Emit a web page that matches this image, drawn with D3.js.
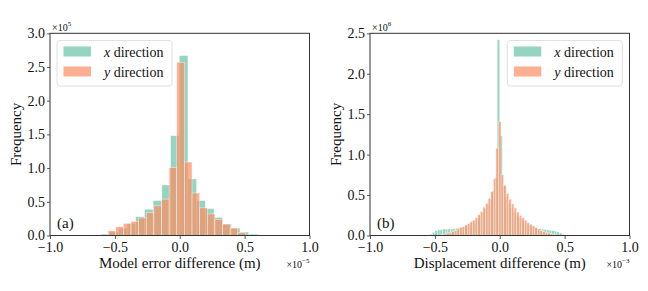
<!DOCTYPE html>
<html>
<head>
<meta charset="utf-8">
<script src="https://cdn.jsdelivr.net/npm/d3@7"></script>
<style>
  body { margin: 0; background: #fff; }
  svg, svg text { font-family: "Liberation Serif", "Times New Roman", Times, "DejaVu Serif", serif !important; }
</style>
</head>
<body>
<div id="chart"></div>
<script>
// (a) model error difference, x in 1e-5 m, counts in 1e5
const aRangeX = [-0.607, 0.599]
const aCountX = [0.02, 0.05, 0.11, 0.18, 0.28, 0.39, 0.52, 0.75, 1.48, 2.67, 0.84, 0.52, 0.40, 0.27, 0.17, 0.11, 0.05, 0.02]
const aRangeY = [-0.552, 0.506]
const aCountY = [0.07, 0.13, 0.18, 0.21, 0.26, 0.34, 0.44, 0.54, 1.01, 2.57, 1.09, 0.63, 0.41, 0.32, 0.24, 0.17, 0.11, 0.04]

// (b) displacement difference, x in 1e-3 m, counts in 1e6
const bRangeX = [-0.54, 0.50]
const bCountX = [0.015, 0.04, 0.06, 0.07, 0.075, 0.08, 0.08, 0.08, 0.08, 0.085, 0.09, 0.095, 0.10, 0.11, 0.12, 0.14,
  0.16, 0.18, 0.21, 0.24, 0.28, 0.33, 0.38, 0.45, 0.55, 0.72, 2.42, 1.23, 0.62, 0.48, 0.40, 0.34, 0.29, 0.25, 0.22,
  0.19, 0.16, 0.14, 0.12, 0.11, 0.10, 0.09, 0.085, 0.08, 0.075, 0.07, 0.065, 0.06, 0.055, 0.045, 0.03, 0.012]
const bRangeY = [-0.45, 0.43]
const bCountY = [0.01, 0.02, 0.03, 0.04, 0.05, 0.06, 0.08, 0.10, 0.11, 0.13, 0.15, 0.17, 0.19, 0.22, 0.26, 0.30,
  0.35, 0.40, 0.46, 0.54, 0.70, 1.08, 1.41, 0.75, 0.62, 0.52, 0.45, 0.39, 0.34, 0.29, 0.25, 0.22, 0.19, 0.16,
  0.14, 0.12, 0.10, 0.08, 0.06, 0.05, 0.04, 0.03, 0.02, 0.01]

const xTicks = [-1, -0.5, 0, 0.5, 1]
const legendNames = ['x', 'y']
const colors = ['#66c2a5', '#fc8d62']

const W = 648, H = 291
const svg = d3.select('#chart').append('svg').attr('width', W).attr('height', H)
const fmt = d3.format('.1f')

function panel(o) {
  const x = d3.scaleLinear().domain([-1, 1]).range([o.left, o.right])
  const y = d3.scaleLinear().domain([0, o.yMax]).range([o.bottom, o.top])
  const g = svg.append('g')

  o.series.forEach((s, k) => {
    const w = (s.range[1] - s.range[0]) / s.counts.length
    g.append('g').selectAll('rect').data(s.counts).join('rect')
      .attr('x', (d, i) => x(s.range[0] + i * w))
      .attr('width', (d, i) => x(s.range[0] + (i + 1) * w) - x(s.range[0] + i * w))
      .attr('y', d => y(d))
      .attr('height', d => y(0) - y(d))
      .attr('fill', colors[k]).attr('fill-opacity', 0.7)
      .attr('stroke', '#fff').attr('stroke-opacity', 0.7).attr('stroke-width', 0.6)
  })

  const xa = g.append('g').attr('transform', `translate(0,${o.bottom})`)
    .call(d3.axisBottom(x).tickValues(xTicks).tickFormat(fmt).tickSize(3.5).tickPadding(3))
  const ya = g.append('g').attr('transform', `translate(${o.left},0)`)
    .call(d3.axisLeft(y).tickValues(d3.range(0, o.yMax + 0.01, 0.5)).tickFormat(fmt).tickSize(3).tickPadding(2))
  ;[xa, ya].forEach(a => {
    a.attr('font-family', null)
    a.select('.domain').remove()
    a.selectAll('line').attr('stroke', '#333').attr('stroke-width', 0.8)
    a.selectAll('text').attr('font-size', 14).attr('fill', '#111')
  })

  g.append('rect').attr('x', o.left).attr('y', o.top)
    .attr('width', o.right - o.left).attr('height', o.bottom - o.top)
    .attr('fill', 'none').attr('stroke', '#333').attr('stroke-width', 1)

  // axis labels
  g.append('text').attr('x', (o.left + o.right) / 2).attr('y', 268)
    .attr('text-anchor', 'middle').attr('font-size', 15).attr('fill', '#111').text(o.xLabel)
  g.append('text').attr('transform', `translate(${o.left - 29},${(o.top + o.bottom) / 2}) rotate(-90)`)
    .attr('text-anchor', 'middle').attr('font-size', 15).attr('fill', '#111').text('Frequency')

  // offset texts
  const yo = g.append('text').attr('x', o.left + 2).attr('y', 31).attr('font-size', 10).attr('fill', '#111')
  yo.append('tspan').text('×10')
  yo.append('tspan').attr('font-size', 7).attr('dy', -5).text(o.yExp)
  const xo = g.append('text').attr('x', o.right).attr('y', 268).attr('font-size', 10)
    .attr('text-anchor', 'end').attr('fill', '#111')
  xo.append('tspan').text('×10')
  xo.append('tspan').attr('font-size', 7).attr('dy', -5).text(o.xExp)

  // panel tag
  g.append('text').attr('x', o.left + 7).attr('y', 228).attr('font-size', 15).attr('fill', '#111').text(o.tag)

  // legend
  const lg = g.append('g').attr('transform', `translate(${o.legendX},40.5)`)
  lg.append('rect').attr('width', 115).attr('height', 45.5).attr('rx', 3)
    .attr('fill', '#fff').attr('fill-opacity', 0.8).attr('stroke', '#d8d8d8').attr('stroke-width', 0.8)
  legendNames.forEach((n, i) => {
    lg.append('rect').attr('x', 6.5).attr('y', 6 + i * 20).attr('width', 27.5).attr('height', 10)
      .attr('fill', colors[i]).attr('fill-opacity', 0.7)
    const t = lg.append('text').attr('x', 47).attr('y', 16 + i * 20).attr('font-size', 14).attr('fill', '#111')
    t.append('tspan').attr('font-style', 'italic').text(n)
    t.append('tspan').text(' direction')
  })
}

panel({
  left: 50, right: 309.5, top: 33.3, bottom: 235.5, yMax: 3.0,
  series: [{ range: aRangeX, counts: aCountX }, { range: aRangeY, counts: aCountY }],
  xLabel: 'Model error difference (m)', tag: '(a)', yExp: '5', xExp: '−5', legendX: 57
})
panel({
  left: 370, right: 629.5, top: 33.3, bottom: 235.5, yMax: 2.5,
  series: [{ range: bRangeX, counts: bCountX }, { range: bRangeY, counts: bCountY }],
  xLabel: 'Displacement difference (m)', tag: '(b)', yExp: '6', xExp: '−3', legendX: 507.3
})
</script>
</body>
</html>
